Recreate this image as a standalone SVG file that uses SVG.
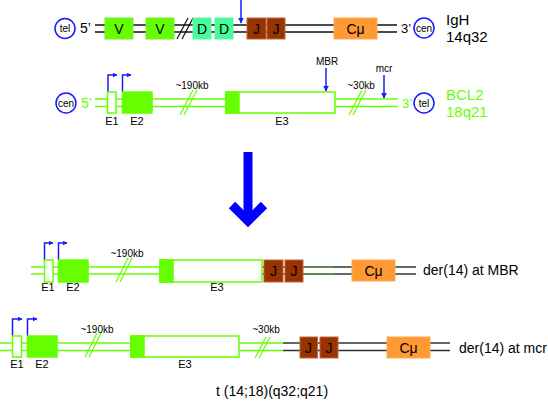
<svg xmlns="http://www.w3.org/2000/svg" width="548" height="402" viewBox="0 0 548 402">
<defs>
<marker id="ah" viewBox="0 0 10 10" refX="9" refY="5" markerWidth="5" markerHeight="5" orient="auto" markerUnits="userSpaceOnUse">
<path d="M0,0 L10,5 L0,10 z" fill="#1a1aff"/>
</marker>
<marker id="ahs" viewBox="0 0 10 10" refX="9" refY="5" markerWidth="6" markerHeight="6" orient="auto" markerUnits="userSpaceOnUse">
<path d="M0,0 L10,5 L0,10 z" fill="#1a1aff"/>
</marker>
</defs>
<style>
text{font-family:"Liberation Sans",Arial,sans-serif;fill:#000}
.blk{stroke:#111;stroke-width:1.5;fill:none}
.drk{stroke:#333;stroke-width:1.5;fill:none}
.dg{stroke:#2e5e1e;stroke-width:1.5;fill:none}
.gl{stroke:#66ff00;stroke-width:1.5;fill:none}
.sl{stroke:#66ff00;stroke-width:1.2;fill:none}
.slb{stroke:#111;stroke-width:1.2;fill:none}
.V{fill:#66ff00;stroke:#77ee33;stroke-width:1}
.D{fill:#44ff99;stroke:#66eeaa;stroke-width:1}
.J{fill:#993300;stroke:#bb6644;stroke-width:1}
.C{fill:#ff9933;stroke:#ffaa55;stroke-width:1}
.Eo{fill:#fff;stroke:#66ff00;stroke-width:1.5}
.Ef{fill:#66ff00;stroke:#66ff00;stroke-width:1.5}
.circ{fill:#fff;stroke:#1a1aff;stroke-width:1.5}
.bl{stroke:#1a1aff;stroke-width:1.5;fill:none}
.lab{font-size:14px;text-anchor:middle}
.sm{font-size:10px;text-anchor:middle}
.ex{font-size:11px;text-anchor:middle}
.ct{font-size:10px;text-anchor:middle}
.gt{fill:#66ff00}
</style>

<g id="connectors">
<line class="blk" x1="95" y1="25" x2="397" y2="25"/>
<line class="blk" x1="95" y1="32" x2="397" y2="32"/>
<line class="gl" x1="95" y1="99" x2="398" y2="99"/>
<line class="gl" x1="95" y1="106.5" x2="398" y2="106.5"/>
<line class="gl" x1="31" y1="267" x2="262" y2="267"/>
<line class="gl" x1="31" y1="274" x2="262" y2="274"/>
<line class="drk" x1="262" y1="267" x2="265" y2="267"/>
<line class="drk" x1="262" y1="274" x2="265" y2="274"/>
<line class="drk" x1="282" y1="267" x2="286" y2="267"/>
<line class="drk" x1="282" y1="274" x2="286" y2="274"/>
<line class="dg" x1="303" y1="267" x2="334" y2="267"/>
<line class="dg" x1="303" y1="274" x2="334" y2="274"/>
<line class="drk" x1="334" y1="267" x2="416" y2="267"/>
<line class="drk" x1="334" y1="274" x2="416" y2="274"/>
<line class="gl" x1="0" y1="343" x2="283" y2="343"/>
<line class="gl" x1="0" y1="350.5" x2="283" y2="350.5"/>
<line class="drk" x1="283" y1="343" x2="450" y2="343"/>
<line class="drk" x1="283" y1="350.5" x2="450" y2="350.5"/>
<line class="slb" x1="177" y1="39" x2="188" y2="18"/>
<line class="slb" x1="182" y1="39" x2="193" y2="18"/>
<line class="sl" x1="180" y1="115" x2="193" y2="90"/>
<line class="sl" x1="184" y1="115" x2="197" y2="90"/>
<line class="sl" x1="349" y1="115" x2="362" y2="90"/>
<line class="sl" x1="353" y1="115" x2="366" y2="90"/>
<line class="sl" x1="116" y1="282" x2="128" y2="258"/>
<line class="sl" x1="120" y1="282" x2="132" y2="258"/>
<line class="sl" x1="85" y1="357" x2="97" y2="333"/>
<line class="sl" x1="89" y1="357" x2="101" y2="333"/>
<line class="sl" x1="255" y1="358" x2="266" y2="337"/>
<line class="sl" x1="259" y1="358" x2="270" y2="337"/>
<line class="bl" x1="241" y1="0" x2="241" y2="23" marker-end="url(#ahs)"/>
<line class="bl" x1="326" y1="68" x2="326" y2="91" marker-end="url(#ahs)"/>
<line class="bl" x1="384" y1="75" x2="384" y2="98" marker-end="url(#ahs)"/>
<polyline class="bl" points="108,92 108,75 117,75" marker-end="url(#ah)"/>
<polyline class="bl" points="122.5,92 122.5,75 131,75" marker-end="url(#ah)"/>
<polyline class="bl" points="44.5,260 44.5,243 53,243" marker-end="url(#ah)"/>
<polyline class="bl" points="58.5,260 58.5,243 67,243" marker-end="url(#ah)"/>
<polyline class="bl" points="12.5,336 12.5,319 22,319" marker-end="url(#ah)"/>
<polyline class="bl" points="27.5,336 27.5,319 37,319" marker-end="url(#ah)"/>
<line x1="248" y1="152" x2="248" y2="218" stroke="#0000ff" stroke-width="9"/>
<polyline points="232,205 248,221 264,205" fill="none" stroke="#0000ff" stroke-width="9" stroke-linecap="butt"/>
</g>

<g id="igh">
<circle class="circ" cx="65" cy="28.5" r="10"/>
<text class="ct" x="65" y="32">tel</text>
<text x="80" y="33" font-size="14">5’</text>
<rect class="V" x="105" y="18" width="28" height="21"/>
<text class="lab" x="119" y="34">V</text>
<rect class="V" x="146" y="18" width="28" height="21"/>
<text class="lab" x="160" y="34">V</text>
<rect class="D" x="193" y="18" width="18" height="21"/>
<text class="lab" x="202" y="34">D</text>
<rect class="D" x="215" y="18" width="18" height="21"/>
<text class="lab" x="224" y="34">D</text>
<rect class="J" x="247" y="18" width="19" height="21"/>
<text class="lab" x="256.5" y="34">J</text>
<rect class="J" x="267" y="18" width="18" height="21"/>
<text class="lab" x="276" y="34">J</text>
<rect class="C" x="334" y="18" width="43" height="21"/>
<text class="lab" x="355.5" y="34" font-size="15">Cμ</text>
<text x="401" y="33" font-size="13">3’</text>
<circle class="circ" cx="424" cy="28" r="10"/>
<text class="ct" x="424" y="31.5">cen</text>
<text x="446" y="25" font-size="15">IgH</text>
<text x="446" y="42" font-size="15">14q32</text>
</g>

<g id="bcl2">
<circle class="circ" cx="66" cy="103" r="10"/>
<text class="ct" x="66" y="106.5">cen</text>
<text x="81" y="108" font-size="14" class="gt">5’</text>
<rect class="Eo" x="107.5" y="92" width="8.5" height="21"/>
<rect class="Ef" x="122.5" y="92" width="29.5" height="21"/>
<rect class="Eo" x="226" y="92" width="109" height="21"/>
<rect class="Ef" x="226" y="92" width="13" height="21"/>
<text class="ex" x="112" y="125">E1</text>
<text class="ex" x="137" y="125">E2</text>
<text class="ex" x="282" y="125">E3</text>
<text class="sm" x="192" y="89">~190kb</text>
<text class="sm" x="327" y="65">MBR</text>
<text class="sm" x="384" y="72">mcr</text>
<text class="sm" x="361" y="89">~30kb</text>
<text x="402" y="108" font-size="13" class="gt">3’</text>
<circle class="circ" cx="424" cy="103" r="10"/>
<text class="ct" x="424" y="106.5">tel</text>
<text x="446" y="100" font-size="15" class="gt">BCL2</text>
<text x="446" y="117" font-size="15" class="gt">18q21</text>
</g>

<g id="der14-mbr">
<rect class="Eo" x="44.5" y="260" width="8.5" height="22"/>
<rect class="Ef" x="58.5" y="260" width="29.5" height="22"/>
<rect class="Eo" x="160" y="260" width="102" height="22"/>
<rect class="Ef" x="160" y="260" width="13" height="22"/>
<text class="ex" x="48" y="291">E1</text>
<text class="ex" x="73" y="291">E2</text>
<text class="ex" x="217" y="291">E3</text>
<text class="sm" x="127" y="257">~190kb</text>
<rect class="J" x="264" y="260" width="19" height="22"/>
<text class="lab" x="273.5" y="276">J</text>
<rect class="J" x="285" y="260" width="18" height="22"/>
<text class="lab" x="294" y="276">J</text>
<rect class="C" x="352" y="260" width="43" height="21"/>
<text class="lab" x="373.5" y="276" font-size="15">Cμ</text>
<text x="423" y="275" font-size="14">der(14) at MBR</text>
</g>

<g id="der14-mcr">
<rect class="Eo" x="12.5" y="336" width="9" height="21"/>
<rect class="Ef" x="27.5" y="336" width="29.5" height="21"/>
<rect class="Eo" x="131" y="336" width="108" height="21"/>
<rect class="Ef" x="131" y="336" width="13" height="21"/>
<text class="ex" x="17" y="368">E1</text>
<text class="ex" x="42" y="368">E2</text>
<text class="ex" x="185" y="368">E3</text>
<text class="sm" x="97" y="333">~190kb</text>
<text class="sm" x="266" y="333">~30kb</text>
<rect class="J" x="300" y="337" width="17.5" height="21"/>
<text class="lab" x="308.5" y="353">J</text>
<rect class="J" x="320" y="337" width="18" height="21"/>
<text class="lab" x="329" y="353">J</text>
<rect class="C" x="387" y="337" width="43" height="21"/>
<text class="lab" x="408.5" y="353" font-size="15">Cμ</text>
<text x="459" y="353" font-size="14">der(14) at mcr</text>
</g>

<g id="caption">
<text x="216" y="396" font-size="14">t (14;18)(q32;q21)</text>
</g>
</svg>
